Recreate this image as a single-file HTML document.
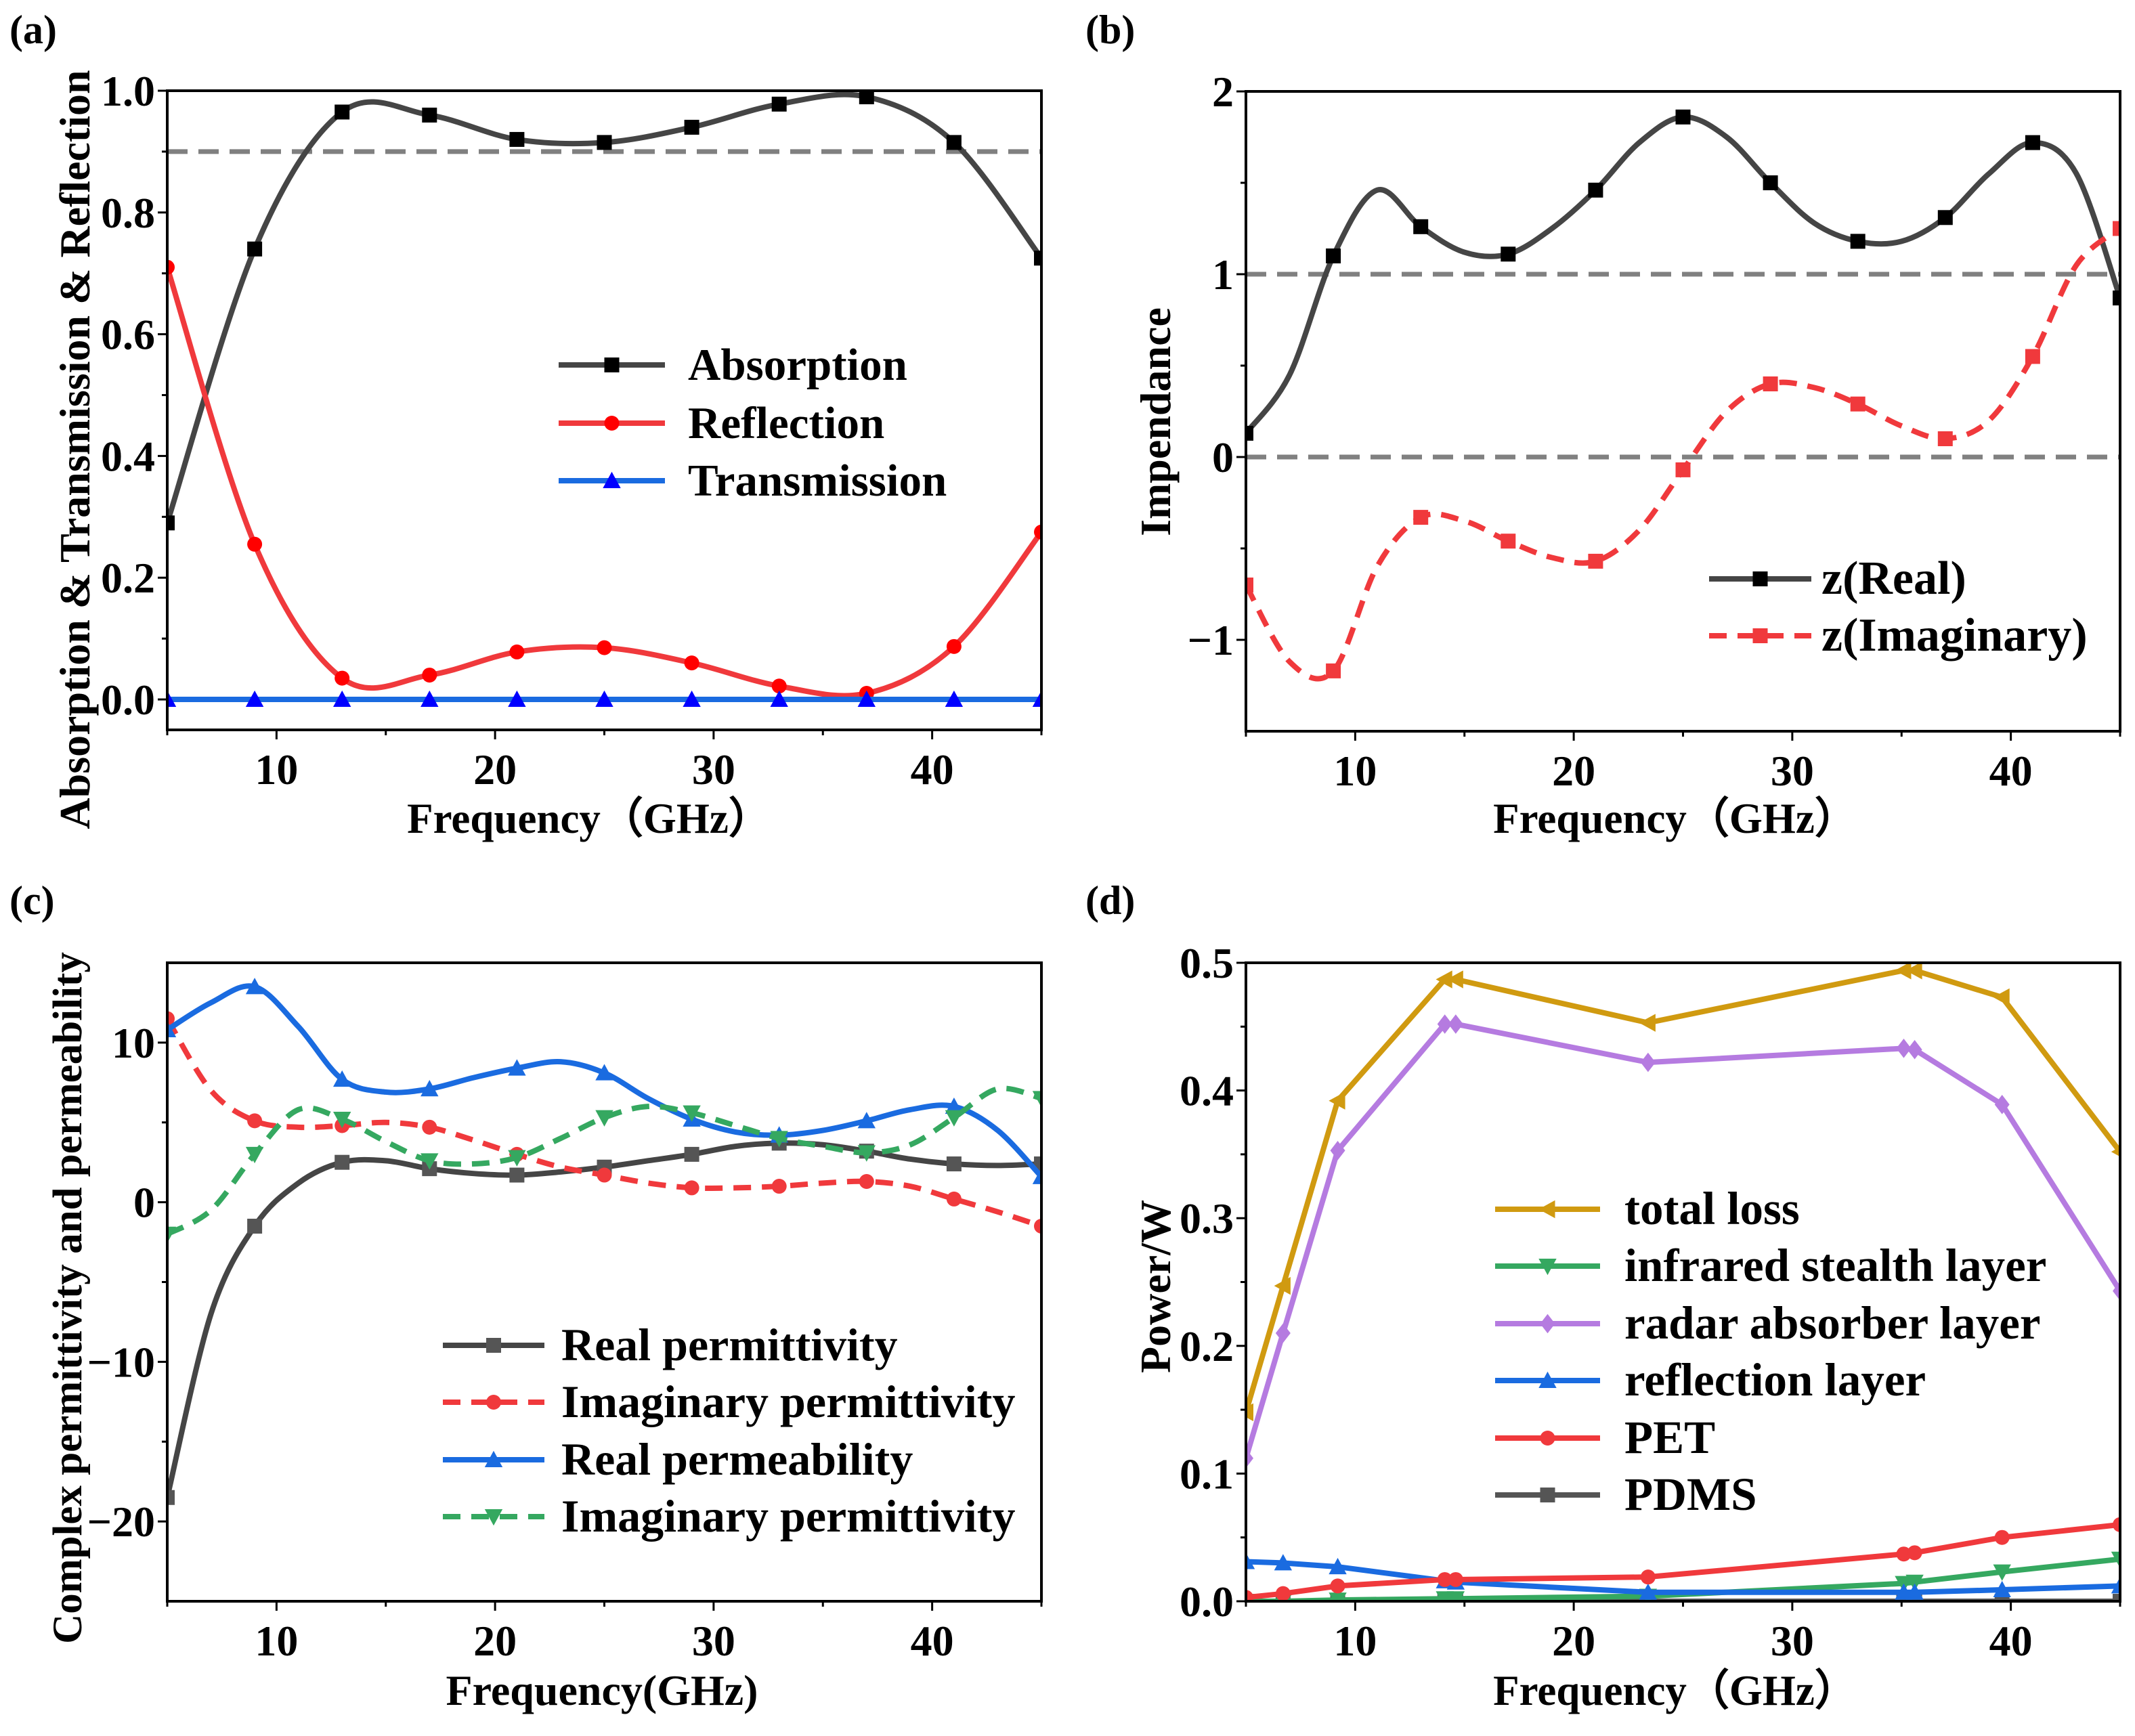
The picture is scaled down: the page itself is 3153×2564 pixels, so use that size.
<!DOCTYPE html>
<html><head><meta charset="utf-8"><style>
body{margin:0;background:#fff}
svg text{font-family:"Liberation Serif",serif;font-weight:bold;fill:#000}
</style></head><body>
<svg id="fig" xmlns="http://www.w3.org/2000/svg" width="3153" height="2559" viewBox="0 0 3153 2559"></svg>
<script>
const freq2 = [5,7,9,11,13,15,17,19,21,23,25,27,29,31,33,35,37,39,41,43,45];
const freqA = [5,9,13,17,21,25,29,33,37,41,45];
const absorption = [0.29,0.74,0.965,0.96,0.92,0.915,0.94,0.978,0.99,0.915,0.725];
const reflection = [0.71,0.255,0.035,0.04,0.078,0.085,0.06,0.022,0.01,0.087,0.275];
const transmission = [0,0,0,0,0,0,0,0,0,0,0];
const zReal = [0.13,0.45,1.1,1.46,1.26,1.12,1.11,1.25,1.46,1.72,1.86,1.75,1.5,1.28,1.18,1.18,1.31,1.55,1.72,1.55,0.87];
const zImag = [-0.7,-1.12,-1.17,-0.6,-0.33,-0.35,-0.46,-0.55,-0.57,-0.4,-0.07,0.25,0.4,0.38,0.29,0.17,0.1,0.2,0.55,1.05,1.25];
const realPermittivity = [-18.5,-7,-1.5,1.2,2.5,2.6,2.1,1.8,1.7,1.9,2.2,2.6,3.0,3.5,3.7,3.6,3.2,2.7,2.4,2.3,2.4];
const imagPermittivity = [11.5,7,5.1,4.7,4.8,5.0,4.7,3.9,3.0,2.2,1.7,1.2,0.9,0.9,1.0,1.2,1.3,1.0,0.2,-0.6,-1.5];
const realPermeability = [10.8,12.5,13.5,11,7.7,6.9,7.1,7.8,8.4,8.8,8.1,6.5,5.2,4.4,4.2,4.5,5.1,5.8,6.0,4.5,1.6];
const imagPermittivity2 = [-2,-0.5,3,5.8,5.2,3.8,2.6,2.4,2.8,4,5.3,6,5.6,4.8,4.0,3.5,3.1,3.6,5.3,7.1,6.5];
const freqD = [5,6.7,9.2,14.1,14.6,23.4,35.1,35.6,39.6,45];
const totalLoss = [0.148,0.247,0.392,0.487,0.487,0.453,0.494,0.494,0.473,0.352];
const infraredLayer = [0.0,0.0,0.001,0.002,0.002,0.004,0.014,0.015,0.023,0.033];
const radarLayer = [0.112,0.21,0.353,0.452,0.452,0.422,0.433,0.432,0.389,0.243];
const reflectionLayer = [0.031,0.030,0.027,0.016,0.015,0.007,0.007,0.007,0.009,0.012];
const petLayer = [0.003,0.006,0.012,0.017,0.017,0.019,0.037,0.038,0.05,0.06];
const pdmsLayer = [0,0,0,0,0,0,0,0,0,0];
const xTicks = [10,20,30,40];
const yTicksA = ["0.0","0.2","0.4","0.6","0.8","1.0"];
const yTicksB = [-1,0,1,2];
const yTicksC = [-20,-10,0,10];
const yTicksD = ["0.0","0.1","0.2","0.3","0.4","0.5"];

const NS="http://www.w3.org/2000/svg";
const svg=document.getElementById('fig');
function mk(tag,attrs,parent){const e=document.createElementNS(NS,tag);for(const k in attrs)e.setAttribute(k,attrs[k]);(parent||svg).appendChild(e);return e;}
function txt(s,x,y,size,anchor,parent,rot){const t=mk('text',{x:x,y:y,'font-size':size,'text-anchor':anchor||'start'},parent);if(rot)t.setAttribute('transform','rotate(-90 '+x+' '+y+')');t.textContent=s;return t;}

function panel(id,L,R,T,B,ymin,ymax){
  const g=mk('g',{});
  
  
  const sx=v=>L+(v-5)/40*(R-L);
  const sy=v=>B-(v-ymin)/(ymax-ymin)*(B-T);
  const cp=mk('clipPath',{id:'clip'+id},g);mk('rect',{x:L,y:T,width:R-L,height:B-T},cp);
  const plot=mk('g',{'clip-path':'url(#clip'+id+')'},g);
  return {g,sx,sy,plot,L,R,T,B};
}
function frame(P,ymin,ymax,ymajorVals,ylabelTexts,yminorVals){
  const {g,sx,sy,L,R,T,B}=P;
  const fr=mk('rect',{x:L,y:T,width:R-L,height:B-T,fill:'none',stroke:'#000','stroke-width':4},g);
  
  
  const xa=mk('g',{},g);
  
  
  for(let v=5;v<=45;v+=5){const major=v%10==0;mk('line',{x1:sx(v),x2:sx(v),y1:B,y2:B+(major?14:8),stroke:'#000','stroke-width':3},xa);}
  xTicks.forEach(v=>{const t=txt(String(v),sx(v),B+80,64,'middle',xa);});
  const ya=mk('g',{},g);
  
  
  yminorVals.forEach(v=>mk('line',{x1:L,x2:L-8,y1:sy(v),y2:sy(v),stroke:'#000','stroke-width':3},ya));
  ymajorVals.forEach((v,i)=>{mk('line',{x1:L,x2:L-14,y1:sy(v),y2:sy(v),stroke:'#000','stroke-width':3},ya);
    const t=txt(ylabelTexts[i].replace('-','\u2212'),L-18,sy(v)+22,64,'end',ya);});
}
function smoothPath(xs,ys,sx,sy){
  const p=xs.map((x,i)=>[sx(x),sy(ys[i])]);
  let d='M'+p[0][0]+','+p[0][1];
  for(let i=0;i<p.length-1;i++){
    const p0=p[Math.max(0,i-1)],p1=p[i],p2=p[i+1],p3=p[Math.min(p.length-1,i+2)];
    const c1=[p1[0]+(p2[0]-p0[0])/6,p1[1]+(p2[1]-p0[1])/6];
    const c2=[p2[0]-(p3[0]-p1[0])/6,p2[1]-(p3[1]-p1[1])/6];
    d+=' C'+c1[0]+','+c1[1]+' '+c2[0]+','+c2[1]+' '+p2[0]+','+p2[1];
  }
  return d;
}
function linePath(xs,ys,sx,sy){return xs.map((x,i)=>(i?'L':'M')+sx(x)+','+sy(ys[i])).join(' ');}
function marker(parent,shape,x,y,color,s){
  s=s||11;let e;
  if(shape=='square')e=mk('rect',{x:x-s,y:y-s,width:2*s,height:2*s,fill:color},parent);
  else if(shape=='circle')e=mk('circle',{cx:x,cy:y,r:s,fill:color},parent);
  else if(shape=='up')e=mk('polygon',{points:`${x},${y-s*1.2} ${x-s*1.2},${y+s} ${x+s*1.2},${y+s}`,fill:color},parent);
  else if(shape=='down')e=mk('polygon',{points:`${x},${y+s*1.2} ${x-s*1.2},${y-s} ${x+s*1.2},${y-s}`,fill:color},parent);
  else if(shape=='left')e=mk('polygon',{points:`${x-s*1.2},${y} ${x+s},${y-s*1.2} ${x+s},${y+s*1.2}`,fill:color},parent);
  else if(shape=='diamond')e=mk('polygon',{points:`${x},${y-s*1.3} ${x+s},${y} ${x},${y+s*1.3} ${x-s},${y}`,fill:color},parent);
  return e;
}
function series(P,name,xs,ys,color,mcolor,shape,dashed,smooth,markEvery){
  const s=mk('g',{},P.plot);
  
  
  const d=smooth?smoothPath(xs,ys,P.sx,P.sy):linePath(xs,ys,P.sx,P.sy);
  const a={d:d,fill:'none',stroke:color,'stroke-width':8,'stroke-linejoin':'round'};
  if(dashed)a['stroke-dasharray']='26 16';
  mk('path',a,s);
  xs.forEach((x,i)=>{ if(markEvery(x,i)) { const m=marker(s,shape,P.sx(x),P.sy(ys[i]),mcolor);   } });
}
function hdash(P,v,name){const l=mk('line',{x1:P.L,x2:P.R,y1:P.sy(v),y2:P.sy(v),stroke:'#808080','stroke-width':7,'stroke-dasharray':'30 16'},P.plot);}
function legend(x0,x1,tx,ys,items,size){
  const lg=mk('g',{});
  
  
  items.forEach((it,i)=>{const e=mk('g',{},lg);
    
    
    const a={x1:x0,x2:x1,y1:ys[i],y2:ys[i],stroke:it.c,'stroke-width':8};if(it.d)a['stroke-dasharray']='26 16';mk('line',a,e);
    marker(e,it.s,(x0+x1)/2,ys[i],it.m);
    txt(it.t,tx,ys[i]+22,size||60,'start',e);});
}
const every4=(x,i)=>((x-5)%4===0);
const all=()=>true;
const GREY='#454545',RED='#f0393c',BLUE='#1a6be0';

// Panel a
const A=panel('a',247,1538,134,1078,-0.05,1.0);
frame(A,-0.05,1,[0,0.2,0.4,0.6,0.8,1.0],yTicksA,[0.1,0.3,0.5,0.7,0.9]);
hdash(A,0.9,'threshold-line-0.9');
series(A,'absorption-series',freqA,absorption,GREY,'#000','square',false,true,all);
series(A,'reflection-series',freqA,reflection,RED,'#ff0000','circle',false,true,all);
series(A,'transmission-series',freqA,transmission,BLUE,'#0000ff','up',false,true,all);
legend(825,982,1016,[539,625,710],[{t:'Absorption',c:GREY,m:'#000',s:'square'},{t:'Reflection',c:RED,m:'#ff0000',s:'circle'},{t:'Transmission',c:BLUE,m:'#0000ff',s:'up'}],67);
txt('(a)',14,64,60,'start');
txt('Frequency（GHz）',870,1230,63,'middle');
txt('Absorption & Transmission & Reflection',132,664,64,'middle',null,true);

// Panel b
const Bp=panel('b',1840,3131,135,1080,-1.5,2);
frame(Bp,-1.5,2,yTicksB,yTicksB.map(String),[-0.5,0.5,1.5]);
hdash(Bp,1,'reference-line-1');
hdash(Bp,0,'reference-line-0');
series(Bp,'z-real-series',freq2,zReal,GREY,'#000','square',false,true,every4);
series(Bp,'z-imaginary-series',freq2,zImag,RED,RED,'square',true,true,every4);
legend(2524,2675,2690,[855,939],[{t:'z(Real)',c:GREY,m:'#000',s:'square'},{t:'z(Imaginary)',c:RED,m:RED,s:'square',d:true}],70);
txt('(b)',1603,64,60,'start');
txt('Frequency（GHz）',2474,1230,63,'middle');
txt('Impendance',1728,623,64,'middle',null,true);

// Panel c
const C=panel('c',247,1538,1422,2365,-25,15);
frame(C,-25,15,yTicksC,yTicksC.map(String),[-15,-5,5]);
series(C,'real-permittivity-series',freq2,realPermittivity,GREY,'#555','square',false,true,every4);
series(C,'imaginary-permittivity-series',freq2,imagPermittivity,RED,RED,'circle',true,true,every4);
series(C,'real-permeability-series',freq2,realPermeability,BLUE,BLUE,'up',false,true,every4);
series(C,'imaginary-permeability-series',freq2,imagPermittivity2,'#35a860','#35a860','down',true,true,every4);
legend(654,804,829,[1987,2071,2156,2240],[{t:'Real permittivity',c:GREY,m:'#555',s:'square'},{t:'Imaginary permittivity',c:RED,m:RED,s:'circle',d:true},{t:'Real permeability',c:BLUE,m:BLUE,s:'up'},{t:'Imaginary permittivity',c:'#35a860',m:'#35a860',s:'down',d:true}],68);
txt('(c)',14,1350,60,'start');
txt('Frequency(GHz)',889,2518,64,'middle');
txt('Complex permittivity and permeability',120,1917,61,'middle',null,true);

// Panel d
const D=panel('d',1840,3131,1422,2365,0,0.5);
frame(D,0,0.5,[0,0.1,0.2,0.3,0.4,0.5],yTicksD,[0.05,0.15,0.25,0.35,0.45]);
series(D,'pdms-series',freqD,pdmsLayer,'#555','#555','square',false,false,all);
series(D,'infrared-stealth-series',freqD,infraredLayer,'#35a860','#35a860','down',false,false,all);
series(D,'reflection-layer-series',freqD,reflectionLayer,BLUE,BLUE,'up',false,false,all);
series(D,'pet-series',freqD,petLayer,RED,RED,'circle',false,false,all);
series(D,'radar-absorber-series',freqD,radarLayer,'#b57be0','#b57be0','diamond',false,false,all);
series(D,'total-loss-series',freqD,totalLoss,'#d09a10','#d09a10','left',false,false,all);
legend(2208,2363,2399,[1786,1870,1955,2039,2124,2208],[{t:'total loss',c:'#d09a10',m:'#d09a10',s:'left'},{t:'infrared stealth layer',c:'#35a860',m:'#35a860',s:'down'},{t:'radar absorber layer',c:'#b57be0',m:'#b57be0',s:'diamond'},{t:'reflection layer',c:BLUE,m:BLUE,s:'up'},{t:'PET',c:RED,m:RED,s:'circle'},{t:'PDMS',c:'#555',m:'#555',s:'square'}],69);
txt('(d)',1603,1350,60,'start');
txt('Frequency（GHz）',2474,2518,63,'middle');
txt('Power/W',1728,1900,64,'middle',null,true);
</script>
</body></html>
